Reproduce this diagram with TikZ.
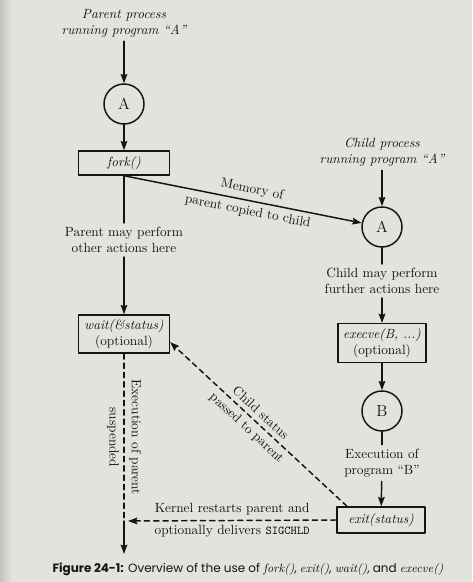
\documentclass[tikz,border=0pt]{standalone}
\usepackage{fontspec}
\newfontfamily\capfont{Poppins}
\usetikzlibrary{arrows.meta,positioning}
\definecolor{paper}{RGB}{227,226,222}
\definecolor{shadow}{RGB}{196,195,191}
\definecolor{ink}{RGB}{20,20,20}

\begin{document}
\begin{tikzpicture}[x=0.75pt,y=-0.75pt,line cap=round,line join=round,
    >={Stealth[length=7pt,width=5pt,inset=1pt]},
    every node/.style={text=ink},
    proc/.style={circle,draw=ink,line width=1.1pt,minimum size=30pt,inner sep=0pt,font=\large},
    call/.style={draw=ink,line width=1.1pt,minimum width=66pt,align=center,inner sep=2.5pt},
    note/.style={align=center,inner sep=3pt},
    link/.style={draw=ink,line width=1.1pt},
    flow/.style={link,->},
    hint/.style={link,dash pattern=on 4pt off 3pt}]

  %-------------------------
  % Page
  %-------------------------
  \fill[paper] (0,0) rectangle (472,582);
  \shade[left color=shadow,right color=paper] (0,0) rectangle (12,582);
  \useasboundingbox (0,0) rectangle (472,582);

  %-------------------------
  % Parent process
  %-------------------------
  \node[note,font=\itshape] (ptitle) at (124,23) {Parent process\\running program “A”};
  \node[proc] (pA) at (124,104) {A};
  \node[call,minimum width=68pt,minimum height=18pt] (fork) at (124,163) {\textit{fork()}};
  \node[note] (pdo) at (124,240) {Parent may perform\\other actions here};
  \node[call,minimum width=68pt,minimum height=28.5pt] (wt) at (124,334)
       {\textit{wait(\&status)}\\(optional)};

  \coordinate (kret) at (124,521);  % parent restarted here
  \coordinate (wake) at (128,521);
  \coordinate (pend) at (124,554);

  \draw[flow] (ptitle) -- (pA);
  \draw[flow] (pA) -- (fork);
  \draw[link] (fork) -- (pdo);
  \draw[flow] (pdo) -- (wt);
  \draw[hint] (wt) -- (kret)
       node[midway,sloped,above] {Execution of parent}
       node[midway,sloped,below] {suspended};
  \draw[flow] (kret) -- (pend);

  %-------------------------
  % Child process
  %-------------------------
  \node[note,font=\itshape] (ctitle) at (382,152) {Child process\\running program “A”};
  \node[proc] (cA) at (382,227) {A};
  \node[note] (cdo) at (382,281) {Child may perform\\further actions here};
  \node[call,minimum height=29pt] (exe) at (382,343) {\textit{execve(B, ...)}\\(optional)};
  \node[proc] (cB) at (382,411) {B};
  \node[note] (bdo) at (382,463) {Execution of\\program “B”};
  \node[call,minimum height=19.5pt] (ex) at (381,520) {\textit{exit(status)}};

  \draw[flow] (ctitle) -- (cA);
  \draw[link] (cA) -- (cdo);
  \draw[flow] (cdo) -- (exe);
  \draw[flow] (exe) -- (cB);
  \draw[link] (cB) -- (bdo);
  \draw[flow] (bdo) -- (ex);

  %-------------------------
  % Between parent and child
  %-------------------------
  \draw[flow] (fork.south) -- (cA)
       node[pos=0.53,sloped,above] {Memory of}
       node[pos=0.53,sloped,below] {parent copied to child};

  \draw[hint,->] (ex.158) -- (wt.-10)
       node[pos=0.525,sloped,above] {Child status}
       node[pos=0.525,sloped,below] {passed to parent};

  \draw[hint,->] (ex.west) -- (wake)
       node[midway,above] {Kernel restarts parent and}
       node[midway,below] {optionally delivers {\small\ttfamily SIGCHLD}};

  %-------------------------
  % Caption
  %-------------------------
  \node[font=\capfont\small] (cap) at (248,569)
       {{\bfseries Figure 24-1:} Overview of the use of {\rmfamily\itshape fork()},
        {\rmfamily\itshape exit()}, {\rmfamily\itshape wait()}, and {\rmfamily\itshape execve()}};

\end{tikzpicture}
\end{document}
